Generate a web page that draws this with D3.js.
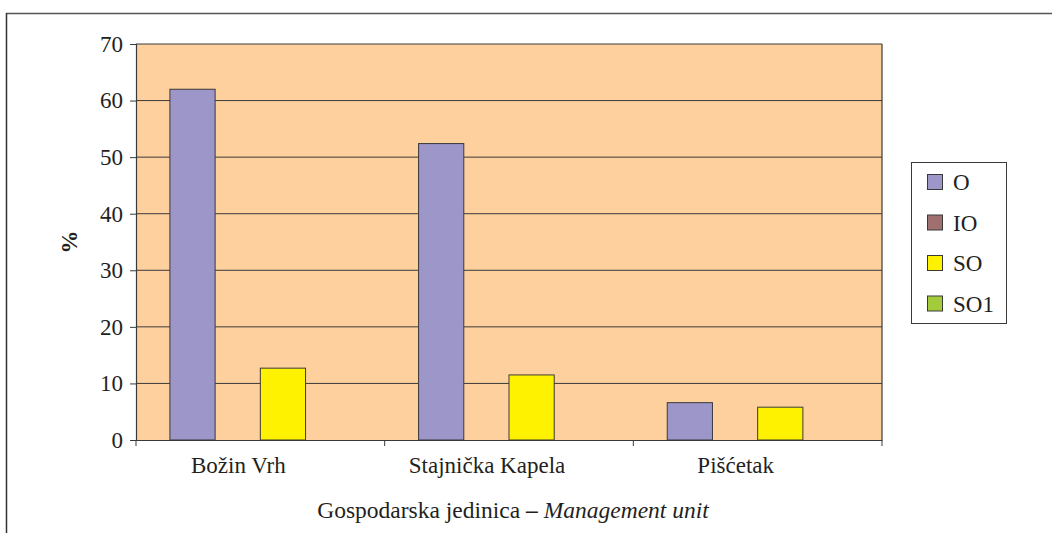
<!DOCTYPE html>
<html>
<head>
<meta charset="utf-8">
<script src="https://cdn.jsdelivr.net/npm/d3@7/dist/d3.min.js"></script>
<style>
html,body{margin:0;padding:0;background:#fff;}
svg{display:block;}
svg text{font-family:"Liberation Serif","Times New Roman",serif !important;fill:#231f20;}
</style>
</head>
<body>
<script>
const categories = ["Božin Vrh", "Stajnička Kapela", "Pišćetak"];
const seriesNames = ["O", "IO", "SO", "SO1"];
const seriesColors = ["#9d96c8", "#a07070", "#fff200", "#a4cc3a"];
const valuesO   = [62.0, 52.4, 6.6];
const valuesIO  = [0, 0, 0];
const valuesSO  = [12.7, 11.5, 5.8];
const valuesSO1 = [0, 0, 0];
const yTicks = [0, 10, 20, 30, 40, 50, 60, 70];
const yLabel = "%";
const xTitleMain = "Gospodarska jedinica ";
const xTitleDash = "–";
const xTitleItalic = " Management unit";

const seriesValues = [valuesO, valuesIO, valuesSO, valuesSO1];
const W = 1052, H = 533;
const m = {left: 136, right: 1052 - 882, top: 44, bottom: 533 - 440};
const svg = d3.select("body").append("svg").attr("width", W).attr("height", H);

svg.append("line").attr("x1", 6).attr("x2", W).attr("y1", 13.5).attr("y2", 13.5).attr("stroke", "#555").attr("stroke-width", 1.5);
svg.append("line").attr("x1", 6.5).attr("x2", 6.5).attr("y1", 13).attr("y2", H).attr("stroke", "#333").attr("stroke-width", 1.5);

const pw = W - m.left - m.right, ph = H - m.top - m.bottom;
const g = svg.append("g").attr("transform", `translate(${m.left},${m.top})`);

const x0 = d3.scaleBand().domain(categories).range([0, pw]).paddingInner(0).paddingOuter(0);
const bw = x0.bandwidth() / 5.5;
const x1 = d3.scaleBand().domain(seriesNames).range([bw * 0.75, bw * 4.75]).padding(0);
const y = d3.scaleLinear().domain([0, 70]).range([ph, 0]);

g.append("rect").attr("width", pw).attr("height", ph).attr("fill", "#fed09d");

g.selectAll(".grid").data(yTicks.filter(t => t > 0)).enter().append("line")
  .attr("x1", 0).attr("x2", pw).attr("y1", d => y(d)).attr("y2", d => y(d))
  .attr("stroke", "#3a3a3a").attr("stroke-width", 1);
g.append("line").attr("x1", pw).attr("x2", pw).attr("y1", 0).attr("y2", ph).attr("stroke", "#3a3a3a").attr("stroke-width", 1.2);

const data = [];
categories.forEach((c, i) => seriesNames.forEach((s, j) => data.push({c, s, j, v: seriesValues[j][i]})));
g.selectAll(".bar").data(data.filter(d => d.v > 0)).enter().append("rect")
  .attr("x", d => x0(d.c) + x1(d.s))
  .attr("y", d => y(d.v))
  .attr("width", x1.bandwidth())
  .attr("height", d => y(0) - y(d.v))
  .attr("fill", d => seriesColors[d.j])
  .attr("stroke", "#3a3a3a").attr("stroke-width", 1);

const yAxis = g.append("g").call(d3.axisLeft(y).tickValues(yTicks).tickSize(6).tickPadding(7));
yAxis.attr("font-family", null);
yAxis.select(".domain").attr("stroke", "#3a3a3a").attr("stroke-width", 1.2);
yAxis.selectAll(".tick line").attr("stroke", "#3a3a3a");
yAxis.selectAll("text").style("font-size", "23px").attr("fill", "#231f20");

const xAxis = g.append("g").attr("transform", `translate(0,${ph})`)
  .call(d3.axisBottom(x0).tickSize(0).tickPadding(17));
xAxis.attr("font-family", null);
xAxis.select(".domain").attr("stroke", "#3a3a3a").attr("stroke-width", 1.2);
xAxis.selectAll("text").style("font-size", "23px").attr("fill", "#231f20").attr("dx", -22);
const bounds = categories.map(c => x0(c)).concat([pw]);
xAxis.selectAll(".btick").data(bounds).enter().append("line")
  .attr("x1", d => d).attr("x2", d => d).attr("y1", 0).attr("y2", 6)
  .attr("stroke", "#3a3a3a").attr("stroke-width", 1);

svg.append("text").attr("transform", "translate(77,242) rotate(-90)")
  .attr("text-anchor", "middle").style("font-size", "23px").style("font-weight", "bold").text(yLabel);

const t = svg.append("text").attr("x", m.left + pw / 2 + 4).attr("y", 518).attr("text-anchor", "middle").style("font-size", "23.5px");
t.append("tspan").text(xTitleMain);
t.append("tspan").style("font-weight", "bold").text(xTitleDash);
t.append("tspan").style("font-style", "italic").text(xTitleItalic);

const lg = svg.append("g").attr("transform", "translate(911,162)");
lg.append("rect").attr("x", 0.5).attr("y", 0.5).attr("width", 95).attr("height", 161).attr("fill", "#fff").attr("stroke", "#3a3a3a").attr("stroke-width", 1);
seriesNames.forEach((s, i) => {
  const yy = 20 + i * 40.5;
  lg.append("rect").attr("x", 16.5).attr("y", yy - 7.5).attr("width", 15).attr("height", 15)
    .attr("fill", seriesColors[i]).attr("stroke", "#3a3a3a").attr("stroke-width", 1);
  lg.append("text").attr("x", 42).attr("y", yy + 8).style("font-size", "23px").text(s);
});
</script>
</body>
</html>
